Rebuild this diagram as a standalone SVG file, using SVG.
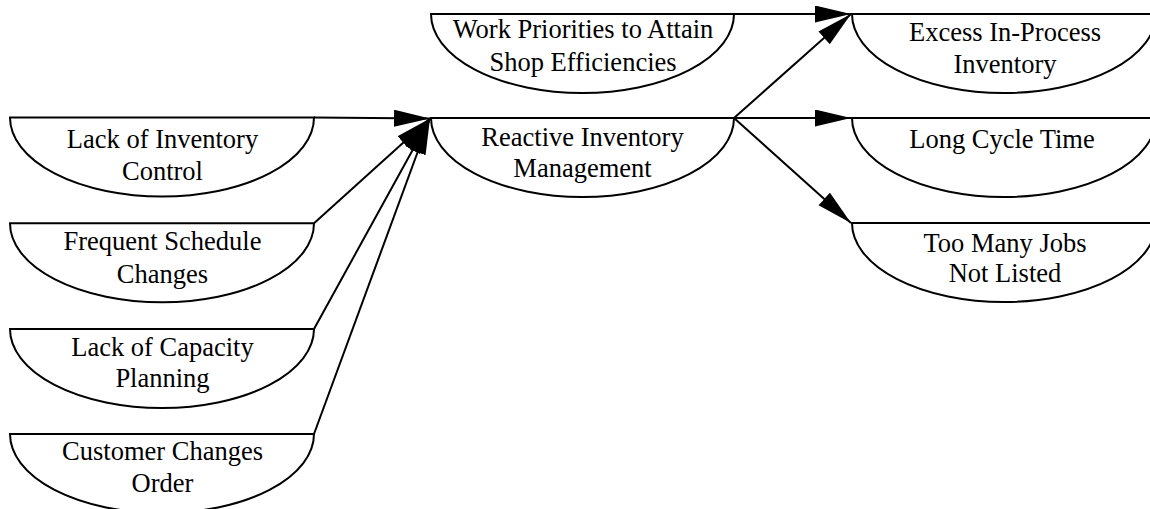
<svg xmlns="http://www.w3.org/2000/svg" width="1150" height="509" viewBox="0 0 1150 509">
<style>
.n{fill:#fff;stroke:#000;stroke-width:2}
.t{font-family:"Liberation Serif","Times New Roman",serif;font-size:26.5px;fill:#000;text-anchor:middle}
.c{stroke:#000;stroke-width:2;fill:none;marker-end:url(#ah)}
</style>
<defs>
<marker id="ah" markerUnits="userSpaceOnUse" markerWidth="37" markerHeight="18" refX="36" refY="8.5" orient="auto">
<path d="M0,0 L36,8.5 L0,17 z" fill="#000"/>
</marker>
</defs>
<rect width="1150" height="509" fill="#fff"/>
<g id="connectors">
<line class="c" x1="314" y1="117.5" x2="430" y2="118.5"/>
<line class="c" x1="314" y1="223.3" x2="430" y2="118.5"/>
<line class="c" x1="314" y1="329" x2="430" y2="118.5"/>
<line class="c" x1="314" y1="434" x2="430" y2="118.5"/>
<line class="c" x1="734" y1="14" x2="851" y2="14"/>
<line class="c" x1="734" y1="118" x2="851" y2="14"/>
<line class="c" x1="734" y1="118" x2="851" y2="118"/>
<line class="c" x1="734" y1="118" x2="851" y2="223"/>
</g>
<g id="n1">
<path class="n" d="M10,117.5 L314,117.5 A152,79 0 0 1 10,117.5 Z"/>
<text class="t" x="162.5" y="147.5">Lack of Inventory</text>
<text class="t" x="162.5" y="180">Control</text>
</g>
<g id="n2">
<path class="n" d="M10,223.3 L314,223.3 A152,79 0 0 1 10,223.3 Z"/>
<text class="t" x="162.5" y="249.5">Frequent Schedule</text>
<text class="t" x="162.5" y="282.5">Changes</text>
</g>
<g id="n3">
<path class="n" d="M10,329 L314,329 A152,79 0 0 1 10,329 Z"/>
<text class="t" x="162.5" y="356">Lack of Capacity</text>
<text class="t" x="162.5" y="387">Planning</text>
</g>
<g id="n4">
<path class="n" d="M10,434 L314,434 A152,79 0 0 1 10,434 Z"/>
<text class="t" x="162.5" y="459.5">Customer Changes</text>
<text class="t" x="162.5" y="491.5">Order</text>
</g>
<g id="n5">
<path class="n" d="M431,14 L734,14 A151.5,79 0 0 1 431,14 Z"/>
<text class="t" x="583" y="38">Work Priorities to Attain</text>
<text class="t" x="583" y="71">Shop Efficiencies</text>
</g>
<g id="n6">
<path class="n" d="M431,118 L734,118 A151.5,79 0 0 1 431,118 Z"/>
<text class="t" x="582.5" y="146">Reactive Inventory</text>
<text class="t" x="582.5" y="176.5">Management</text>
</g>
<g id="n7">
<path class="n" d="M852,14 L1156,14 A152,79 0 0 1 852,14 Z"/>
<text class="t" x="1005" y="40.5">Excess In-Process</text>
<text class="t" x="1005" y="72.5">Inventory</text>
</g>
<g id="n8">
<path class="n" d="M852,118 L1156,118 A152,79 0 0 1 852,118 Z"/>
<text class="t" x="1002" y="148">Long Cycle Time</text>
</g>
<g id="n9">
<path class="n" d="M852,223 L1156,223 A152,79 0 0 1 852,223 Z"/>
<text class="t" x="1005" y="251.5">Too Many Jobs</text>
<text class="t" x="1005" y="281.5">Not Listed</text>
</g>
</svg>
